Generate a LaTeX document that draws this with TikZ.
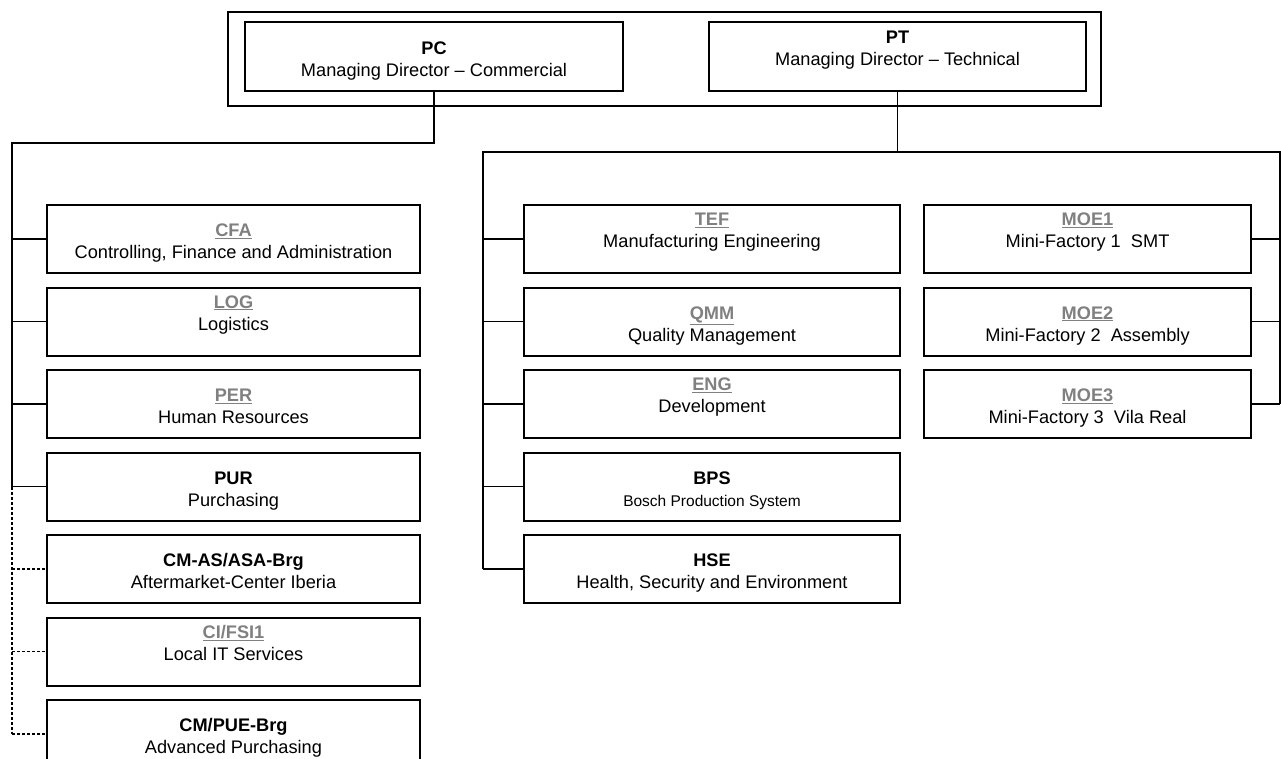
\documentclass[tikz,border=0pt]{standalone}
\usepackage{fontspec}
\setmainfont{Liberation Sans}
\usetikzlibrary{positioning}
\definecolor{codegrey}{HTML}{808080}
\newcommand{\deptcode}[1]{\textcolor{codegrey}{\underline{\textbf{#1}}}}
\newcommand{\headcode}[1]{\textbf{#1}}
\newcommand{\smalltext}[1]{{\fontsize{15.5}{19}\selectfont #1}}

\begin{document}
\begin{tikzpicture}[x=1pt, y=-1pt]
  \tikzset{every node/.style={font=\fontsize{18.2}{22}\selectfont},
    orgbox/.style={draw, line width=2pt, align=center, inner sep=0pt, outer sep=0pt,
      minimum height=68pt, text height=39pt, text depth=0pt, anchor=north west},
    upper/.style={text height=61pt},
    leftbox/.style={orgbox, minimum width=373pt},
    midbox/.style={orgbox, minimum width=376pt},
    rightbox/.style={orgbox, minimum width=327pt},
    topbox/.style={orgbox, minimum width=378pt, minimum height=69pt},
    link/.style={line width=1.5pt},
    dashlink/.style={line width=1.2pt, dash pattern=on 3pt off 2pt}}
  \useasboundingbox (0,0) rectangle (1281,758);
  \draw[line width=1.5pt] (228,12) rectangle (1101,106);
  \node[topbox] (pc) at (245,22) {\headcode{PC}\\Managing Director -- Commercial};
  \node[topbox, upper, minimum width=377pt] (pt) at (709,22) {\headcode{PT}\\Managing Director -- Technical\\~};
  % commercial side
  \node[leftbox] (cfa) at (47,205) {\deptcode{CFA}\\Controlling, Finance and Administration};
  \node[leftbox, upper, below=14.5pt of cfa] (log) {\deptcode{LOG}\\Logistics\\~};
  \node[leftbox, below=14.5pt of log] (per) {\deptcode{PER}\\Human Resources};
  \node[leftbox, below=14.5pt of per] (pur) {\headcode{PUR}\\Purchasing};
  \node[leftbox, below=14.5pt of pur] (asa) {\headcode{CM-AS/ASA-Brg}\\Aftermarket-Center Iberia};
  \node[leftbox, upper, below=14.5pt of asa] (fsi) {\deptcode{CI/FSI1}\\Local IT Services\\~};
  \node[leftbox, below=14.5pt of fsi] (pue) {\headcode{CM/PUE-Brg}\\Advanced Purchasing};
  % technical side
  \node[midbox, upper] (tef) at (524,205) {\deptcode{TEF}\\Manufacturing Engineering\\~};
  \node[midbox, below=14.5pt of tef] (qmm) {\deptcode{QMM}\\Quality Management};
  \node[midbox, upper, below=14.5pt of qmm] (eng) {\deptcode{ENG}\\Development\\~};
  \node[midbox, below=14.5pt of eng] (bps) {\headcode{BPS}\\\smalltext{Bosch Production System}};
  \node[midbox, below=14.5pt of bps] (hse) {\headcode{HSE}\\Health, Security and Environment};
  \node[rightbox, upper] (moe1) at (924,205) {\deptcode{MOE1}\\Mini-Factory 1\ \ SMT\\~};
  \node[rightbox, below=14.5pt of moe1] (moe2) {\deptcode{MOE2}\\Mini-Factory 2\ \ Assembly};
  \node[rightbox, below=14.5pt of moe2] (moe3) {\deptcode{MOE3}\\Mini-Factory 3\ \ Vila Real};
  % lines
  \coordinate (lbus) at (12,143);
  \coordinate (mbus) at (483,152);
  \coordinate (rbus) at (1280,152);
  \draw[link] (pc.south) |- (lbus) -- (lbus |- pur.west);
  \foreach \n in {cfa,log,per,pur}
    \draw[link] (lbus |- \n.west) -- (\n.west);
  \draw[dashlink] (lbus |- pur.west) -- (lbus |- pue.west);
  \foreach \n in {asa,fsi,pue}
    \draw[dashlink] (lbus |- \n.west) -- (\n.west);
  \draw[link] (pt.south) -- (pt.south |- mbus);
  \draw[link] (mbus |- hse.west) -- (mbus) -- (rbus) -- (rbus |- moe3.east);
  \foreach \n in {tef,qmm,eng,bps,hse}
    \draw[link] (mbus |- \n.west) -- (\n.west);
  \foreach \n in {moe1,moe2,moe3}
    \draw[link] (\n.east) -- (rbus |- \n.east);
\end{tikzpicture}
\end{document}
